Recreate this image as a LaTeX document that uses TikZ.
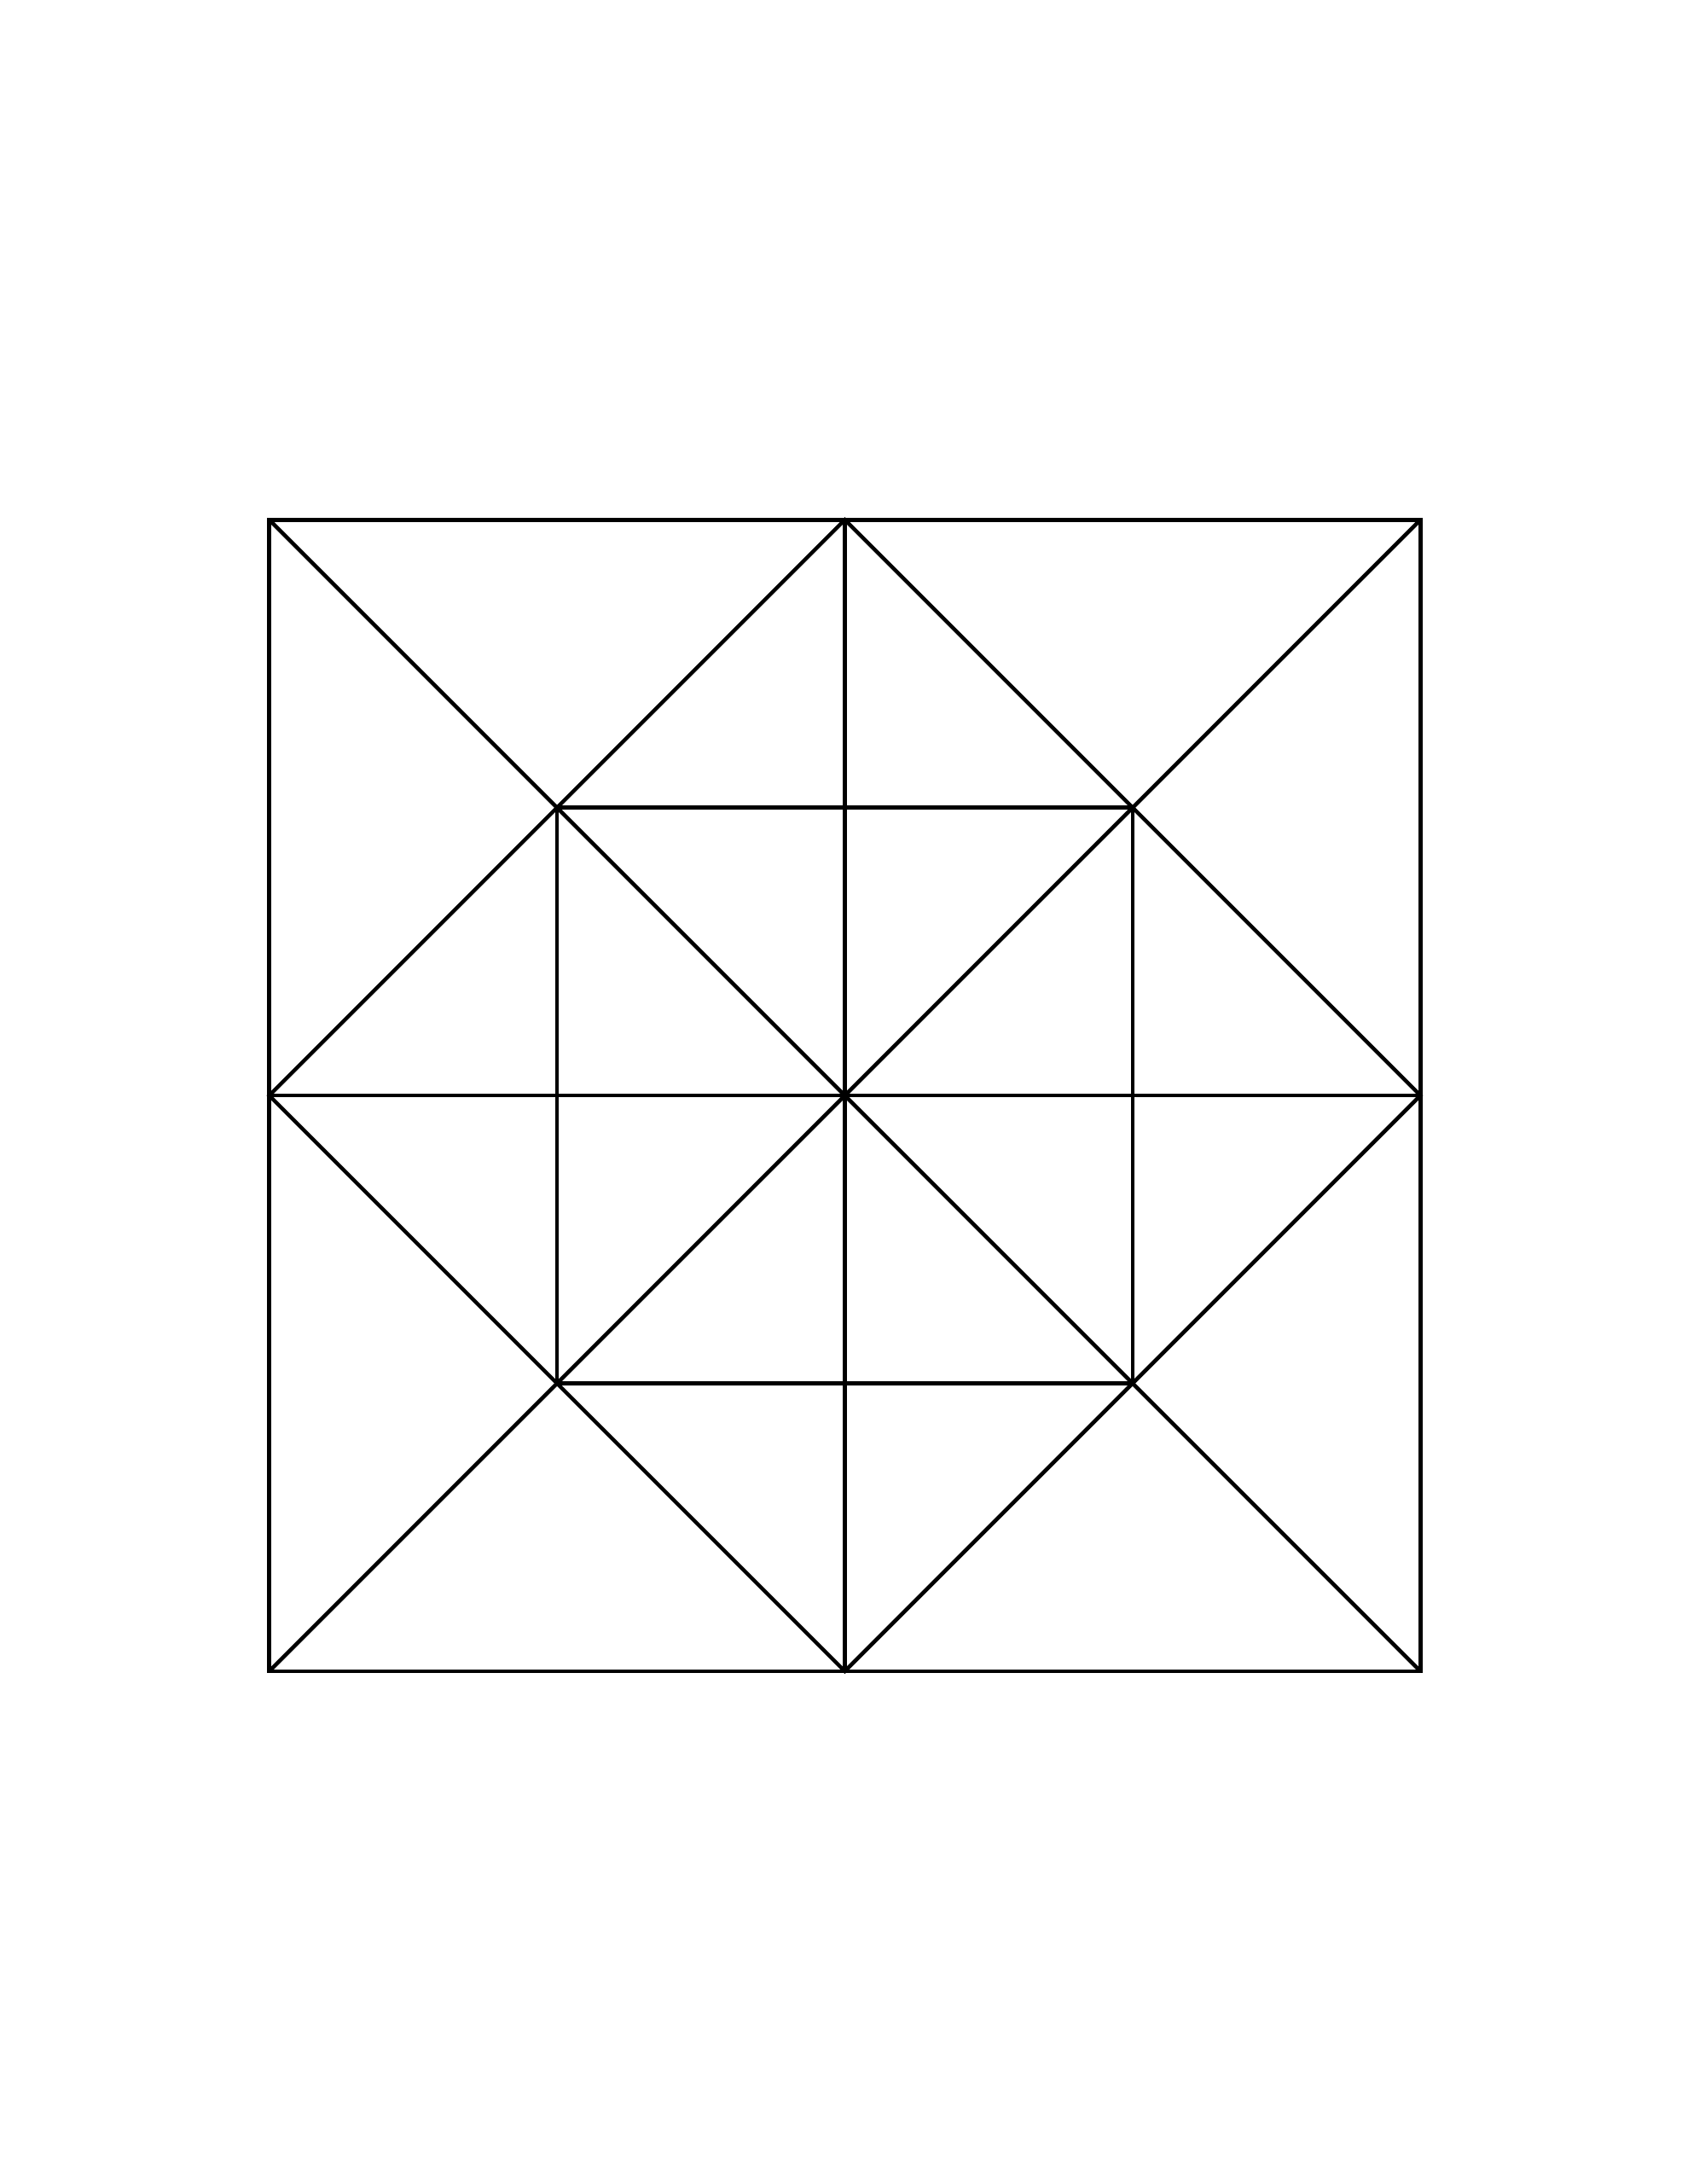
\documentclass[tikz,border=0pt]{standalone}
\usetikzlibrary{calc}
\tikzset{
  edgeline/.style={
    draw,
    black,
    line width=1.4pt,
    line join=miter,
  },
}
\begin{document}
\begin{tikzpicture}
  \useasboundingbox (0,0) rectangle (21.59,27.94);
  % corners and midpoints
  \coordinate (c) at (10.81,13.925);
  \coordinate (tl) at ($(c)+(-7.365,7.365)$);
  \coordinate (tr) at ($(c)+(7.365,7.365)$);
  \coordinate (bl) at ($(c)+(-7.365,-7.365)$);
  \coordinate (br) at ($(c)+(7.365,-7.365)$);
  \coordinate (t) at ($(tl)!0.5!(tr)$);
  \coordinate (b) at ($(bl)!0.5!(br)$);
  \coordinate (l) at ($(tl)!0.5!(bl)$);
  \coordinate (r) at ($(tr)!0.5!(br)$);
  \coordinate (itl) at ($(c)!0.5!(tl)$);
  \coordinate (itr) at ($(c)!0.5!(tr)$);
  \coordinate (ibl) at ($(c)!0.5!(bl)$);
  \coordinate (ibr) at ($(c)!0.5!(br)$);
  % outer square
  \path[edgeline] (tl) -- (tr) -- (br) -- (bl) -- cycle;
  % diamond
  \path[edgeline] (t) -- (r) -- (b) -- (l) -- cycle;
  % inner square
  \path[edgeline] (itl) -- (itr) -- (ibr) -- (ibl) -- cycle;
  % diagonals and midlines
  \path[edgeline] (tl) -- (br);
  \path[edgeline] (tr) -- (bl);
  \path[edgeline] (t) -- (b);
  \path[edgeline] (l) -- (r);
\end{tikzpicture}
\end{document}
